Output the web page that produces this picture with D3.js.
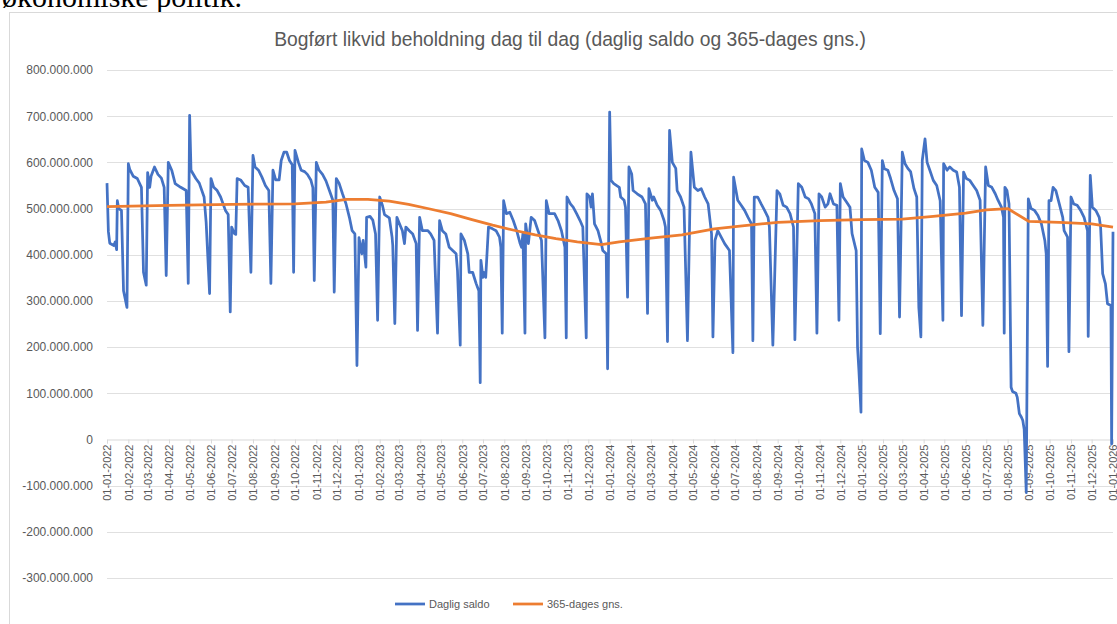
<!DOCTYPE html>
<html>
<head>
<meta charset="utf-8">
<script src="https://cdn.jsdelivr.net/npm/d3@7"></script>
<style>
  body { margin: 0; background: #fff; }
  svg { display: block; }
</style>
</head>
<body>
<div id="chart"></div>
<script>
// values in millions of kr; dates as yyyy-mm-dd
const saldo2022 = [
  ["2022-01-01",555],["2022-01-03",450],["2022-01-05",425],["2022-01-11",420],["2022-01-13",428],["2022-01-15",411],
  ["2022-01-16",517],["2022-01-18",500],["2022-01-22",496],["2022-01-25",322],["2022-01-30",286],
  ["2022-02-01",597],["2022-02-03",585],["2022-02-08",570],["2022-02-14",565],["2022-02-20",546],["2022-02-23",362],["2022-02-27",334],
  ["2022-03-01",578],["2022-03-04",546],["2022-03-06",570],["2022-03-11",590],["2022-03-16",574],["2022-03-21",566],["2022-03-25",546],["2022-03-28",355],
  ["2022-03-31",600],["2022-04-05",583],["2022-04-10",554],["2022-04-18",546],["2022-04-26",539],["2022-04-29",338],
  ["2022-05-01",702],["2022-05-03",583],["2022-05-10",565],["2022-05-15",555],["2022-05-22",525],["2022-05-25",470],["2022-05-30",316],
  ["2022-06-01",565],["2022-06-05",546],["2022-06-10",539],["2022-06-15",525],["2022-06-22",496],["2022-06-26",487],["2022-06-29",276],
  ["2022-07-01",460],["2022-07-05",446],["2022-07-07",444],["2022-07-09",565],["2022-07-14",562],["2022-07-20",550],["2022-07-25",546],["2022-07-29",362],
  ["2022-08-01",615],["2022-08-04",590],["2022-08-09",583],["2022-08-14",568],["2022-08-19",550],["2022-08-24",539],["2022-08-27",338],
  ["2022-08-30",583],["2022-09-03",562],["2022-09-08",562],["2022-09-11",604],["2022-09-15",622],["2022-09-19",622],["2022-09-23",604],["2022-09-27",595],["2022-09-29",362],
  ["2022-10-01",626],["2022-10-06",600],["2022-10-10",583],["2022-10-15",580],["2022-10-19",574],["2022-10-24",562],["2022-10-27",545],["2022-10-29",344],
  ["2022-11-01",600],["2022-11-05",583],["2022-11-10",574],["2022-11-15",560],["2022-11-20",539],["2022-11-25",518],["2022-11-27",319],
  ["2022-11-30",565],["2022-12-04",555],["2022-12-09",532],["2022-12-14",511],["2022-12-19",481],["2022-12-23",452],["2022-12-27",445],["2022-12-30",160]
];

const saldo2023 = [
  ["2023-01-02",437],["2023-01-06",402],["2023-01-08",431],["2023-01-10",402],["2023-01-12",373],["2023-01-13",481],["2023-01-18",483],["2023-01-22",475],["2023-01-26",445],["2023-01-29",258],
  ["2023-02-01",525],["2023-02-05",507],["2023-02-08",487],["2023-02-15",480],["2023-02-19",438],["2023-02-20",420],["2023-02-23",251],
  ["2023-02-26",481],["2023-03-01",470],["2023-03-06",452],["2023-03-09",424],["2023-03-11",460],["2023-03-16",452],["2023-03-21",445],["2023-03-26",424],["2023-03-28",236],
  ["2023-03-31",481],["2023-04-04",452],["2023-04-12",452],["2023-04-16",445],["2023-04-21",431],["2023-04-26",230],
  ["2023-04-29",474],["2023-05-03",452],["2023-05-08",445],["2023-05-13",416],["2023-05-18",409],["2023-05-23",402],["2023-05-25",366],["2023-05-29",204],
  ["2023-05-30",445],["2023-06-04",431],["2023-06-09",402],["2023-06-11",362],["2023-06-16",362],["2023-06-21",338],["2023-06-25",322],["2023-06-27",123],
  ["2023-06-28",388],["2023-07-01",351],["2023-07-02",362],["2023-07-05",351],["2023-07-09",460],["2023-07-15",456],["2023-07-20",452],["2023-07-25",438],["2023-07-27",416],["2023-07-29",230],
  ["2023-07-31",517],["2023-08-04",489],["2023-08-09",492],["2023-08-14",474],["2023-08-19",452],["2023-08-24",424],["2023-08-26",416],["2023-08-28",445],["2023-08-31",230],
  ["2023-09-01",467],["2023-09-05",424],["2023-09-09",481],["2023-09-14",474],["2023-09-19",452],["2023-09-24",431],["2023-09-29",220],
  ["2023-10-01",517],["2023-10-05",489],["2023-10-13",489],["2023-10-18",474],["2023-10-23",452],["2023-10-28",416],["2023-10-30",220],
  ["2023-10-31",525],["2023-11-05",510],["2023-11-09",503],["2023-11-14",489],["2023-11-19",474],["2023-11-23",460],["2023-11-28",220],
  ["2023-11-29",532],["2023-12-03",525],["2023-12-05",503],["2023-12-07",532],["2023-12-10",467],["2023-12-15",452],["2023-12-20",424],["2023-12-22",409],["2023-12-27",402],["2023-12-29",153]
];

const saldo2024 = [
  ["2024-01-01",709],["2024-01-03",561],["2024-01-07",554],["2024-01-15",546],["2024-01-17",525],["2024-01-22",518],["2024-01-24",503],["2024-01-27",308],
  ["2024-01-29",590],["2024-02-02",575],["2024-02-04",539],["2024-02-10",532],["2024-02-17",525],["2024-02-22",510],["2024-02-25",273],
  ["2024-02-27",543],["2024-03-03",518],["2024-03-05",525],["2024-03-10",507],["2024-03-15",496],["2024-03-20",474],["2024-03-22",460],["2024-03-25",212],
  ["2024-03-28",669],["2024-04-01",600],["2024-04-06",587],["2024-04-08",539],["2024-04-13",525],["2024-04-18",503],["2024-04-23",214],
  ["2024-04-28",622],["2024-05-03",546],["2024-05-08",539],["2024-05-13",543],["2024-05-18",525],["2024-05-23",510],["2024-05-28",445],["2024-05-30",222],
  ["2024-06-02",431],["2024-06-06",452],["2024-06-11",438],["2024-06-16",424],["2024-06-23",409],["2024-06-28",188],
  ["2024-06-29",568],["2024-07-05",518],["2024-07-10",507],["2024-07-15",496],["2024-07-20",481],["2024-07-25",467],["2024-07-27",214],
  ["2024-07-29",525],["2024-08-03",525],["2024-08-08",510],["2024-08-13",496],["2024-08-18",481],["2024-08-20",460],["2024-08-25",204],
  ["2024-08-31",539],["2024-09-04",532],["2024-09-09",507],["2024-09-14",503],["2024-09-19",489],["2024-09-24",460],["2024-09-26",216],
  ["2024-10-01",554],["2024-10-06",546],["2024-10-11",525],["2024-10-16",521],["2024-10-20",510],["2024-10-25",489],["2024-10-28",230],
  ["2024-10-31",532],["2024-11-04",525],["2024-11-09",503],["2024-11-13",510],["2024-11-16",532],["2024-11-21",510],["2024-11-26",507],["2024-11-29",258],
  ["2024-12-01",554],["2024-12-05",525],["2024-12-10",514],["2024-12-15",503],["2024-12-18",446],["2024-12-24",409],["2024-12-26",200],["2024-12-28",149],["2024-12-31",59]
];

const saldo2025 = [
  ["2025-01-01",629],["2025-01-05",604],["2025-01-10",600],["2025-01-15",583],["2025-01-20",546],["2025-01-25",535],["2025-01-28",229],
  ["2025-01-31",604],["2025-02-03",586],["2025-02-08",583],["2025-02-12",565],["2025-02-17",539],["2025-02-22",521],["2025-02-25",265],
  ["2025-03-01",622],["2025-03-05",597],["2025-03-09",587],["2025-03-13",580],["2025-03-18",543],["2025-03-22",525],["2025-03-25",286],["2025-03-28",222],
  ["2025-03-30",604],["2025-04-03",651],["2025-04-06",600],["2025-04-10",583],["2025-04-15",561],["2025-04-20",550],["2025-04-25",517],["2025-04-29",258],
  ["2025-04-30",597],["2025-05-05",583],["2025-05-09",590],["2025-05-14",583],["2025-05-19",579],["2025-05-23",546],["2025-05-26",268],
  ["2025-05-29",579],["2025-06-02",565],["2025-06-07",561],["2025-06-12",550],["2025-06-17",539],["2025-06-22",518],["2025-06-26",247],
  ["2025-06-30",590],["2025-07-04",550],["2025-07-09",546],["2025-07-14",532],["2025-07-18",518],["2025-07-23",503],["2025-07-26",481],["2025-07-27",230],
  ["2025-07-28",546],["2025-07-31",539],["2025-08-03",510],["2025-08-06",113],["2025-08-08",104],["2025-08-13",100],["2025-08-15",91],["2025-08-18",56],
  ["2025-08-21",48],["2025-08-23",41],["2025-08-25",22],["2025-08-28",-115],
  ["2025-08-31",521],["2025-09-04",500],["2025-09-09",496],["2025-09-14",485],["2025-09-19",467],["2025-09-24",431],["2025-09-26",402],["2025-09-28",158],
  ["2025-09-30",517],["2025-10-03",517],["2025-10-06",546],["2025-10-10",539],["2025-10-15",510],["2025-10-20",481],["2025-10-22",452],["2025-10-27",438],["2025-10-29",190],
  ["2025-11-01",525],["2025-11-05",510],["2025-11-10",507],["2025-11-15",496],["2025-11-20",481],["2025-11-25",452],["2025-11-26",223],
  ["2025-11-29",572],["2025-12-02",503],["2025-12-07",496],["2025-12-12",481],["2025-12-14",460],["2025-12-17",359],["2025-12-21",337],["2025-12-24",294],
  ["2025-12-29",290],["2025-12-30",-10],["2026-01-01",450]
];

const gns365 = [
  ["2022-01-01",504],["2022-04-01",507],["2022-07-01",509],["2022-10-01",510],["2022-11-15",514],["2022-12-15",520],
  ["2023-01-15",520],["2023-02-15",516],["2023-03-15",509],["2023-04-15",499],["2023-05-15",489],["2023-06-15",476],
  ["2023-07-15",464],["2023-08-15",453],["2023-09-15",443],["2023-10-15",435],["2023-11-15",428],["2023-12-20",422],
  ["2024-01-15",428],["2024-03-01",436],["2024-04-15",443],["2024-06-01",456],["2024-07-15",463],["2024-09-01",470],
  ["2024-11-01",474],["2025-01-01",476],["2025-03-01",477],["2025-04-15",483],["2025-06-01",490],["2025-07-01",497],
  ["2025-07-20",499],["2025-08-01",500],["2025-09-01",472],["2025-10-15",470],["2025-12-01",467],["2026-01-01",460]
];

const yTicks = [-300, -200, -100, 0, 100, 200, 300, 400, 500, 600, 700, 800];
const seriesNames = ["Daglig saldo", "365-dages gns."];
const seriesColors = ["#4472C4", "#ED7D31"];
const chartTitle = "Bogført likvid beholdning dag til dag (daglig saldo og 365-dages gns.)";

const W = 1117, H = 624;
const parse = d3.timeParse("%Y-%m-%d");
const toPoints = arr => arr.map(([d, v]) => ({ date: parse(d), value: v }));

const saldo = toPoints([...saldo2022, ...saldo2023, ...saldo2024, ...saldo2025]);
const gns = toPoints(gns365);

const dk = d3.formatLocale({ decimal: ",", thousands: ".", grouping: [3], currency: ["", " kr"], minus: "-" });
const fmtY = v => dk.format(",.0f")(v * 1e6);

const svg = d3.select("#chart").append("svg")
  .attr("width", W)
  .attr("height", H);

// text from the surrounding document, cut off at the top
svg.append("text")
  .attr("x", 2)
  .attr("y", 7)
  .style("font-family", "'Liberation Serif', 'DejaVu Serif', serif")
  .style("font-size", "30px")
  .style("fill", "#000")
  .text("økonomiske politik.");

// chart frame
svg.append("rect")
  .attr("x", 9.5)
  .attr("y", 12.5)
  .attr("width", W + 20)
  .attr("height", H + 20)
  .attr("fill", "none")
  .attr("stroke", "#d9d9d9");

svg.append("text")
  .attr("x", 570)
  .attr("y", 46)
  .attr("text-anchor", "middle")
  .style("font-family", "'Liberation Sans', Arial, sans-serif")
  .style("font-size", "19.3px")
  .style("fill", "#595959")
  .text(chartTitle);

const x = d3.scaleTime()
  .domain([parse("2022-01-01"), parse("2026-01-01")])
  .range([107, 1113]);

const y = d3.scaleLinear()
  .domain([-300, 800])
  .range([578, 70]);

// gridlines
svg.append("g")
  .selectAll("line")
  .data(yTicks.filter(d => d !== 0))
  .enter().append("line")
    .attr("x1", 107)
    .attr("x2", 1113)
    .attr("y1", d => Math.round(y(d)) + 0.5)
    .attr("y2", d => Math.round(y(d)) + 0.5)
    .attr("stroke", "#e0e0e0")
    .attr("stroke-width", 1.2);

// y axis labels
const yAxis = svg.append("g")
  .attr("transform", "translate(93,0)")
  .call(d3.axisLeft(y).tickValues(yTicks).tickSize(0).tickPadding(0).tickFormat(fmtY));
yAxis.select(".domain").remove();
yAxis.selectAll("text")
  .style("font-family", "'Liberation Sans', Arial, sans-serif")
  .style("font-size", "12px")
  .style("fill", "#595959");

// x axis at zero
const xAxis = svg.append("g")
  .attr("transform", `translate(0,${Math.round(y(0)) + 0.5})`)
  .call(d3.axisBottom(x)
    .ticks(d3.timeMonth.every(1))
    .tickSize(4)
    .tickFormat(d3.timeFormat("%d-%m-%Y")));
xAxis.select(".domain").attr("stroke", "#d9d9d9");
xAxis.selectAll(".tick line").attr("stroke", "#d9d9d9");
xAxis.selectAll("text")
  .attr("transform", "rotate(-90)")
  .attr("x", -5)
  .attr("y", 0)
  .attr("dy", "0.35em")
  .style("text-anchor", "end")
  .style("font-family", "'Liberation Sans', Arial, sans-serif")
  .style("font-size", "11px")
  .style("fill", "#595959");

const line = d3.line()
  .x(d => x(d.date))
  .y(d => y(d.value));

svg.append("path")
  .datum(saldo)
  .attr("d", line)
  .attr("fill", "none")
  .attr("stroke", seriesColors[0])
  .attr("stroke-width", 2.75)
  .attr("stroke-linejoin", "round");

svg.append("path")
  .datum(gns)
  .attr("d", line)
  .attr("fill", "none")
  .attr("stroke", seriesColors[1])
  .attr("stroke-width", 2.75)
  .attr("stroke-linejoin", "round");

// legend
const legendX = [395, 513];
const legend = svg.append("g")
  .selectAll("g")
  .data(seriesNames)
  .enter().append("g")
    .attr("transform", (d, i) => `translate(${legendX[i]},604)`);

legend.append("line")
  .attr("x1", 0)
  .attr("x2", 30)
  .attr("stroke", (d, i) => seriesColors[i])
  .attr("stroke-width", 2.75);

legend.append("text")
  .attr("x", 34)
  .attr("dy", "0.35em")
  .style("font-family", "'Liberation Sans', Arial, sans-serif")
  .style("font-size", "11px")
  .style("fill", "#595959")
  .text(d => d);
</script>
</body>
</html>
